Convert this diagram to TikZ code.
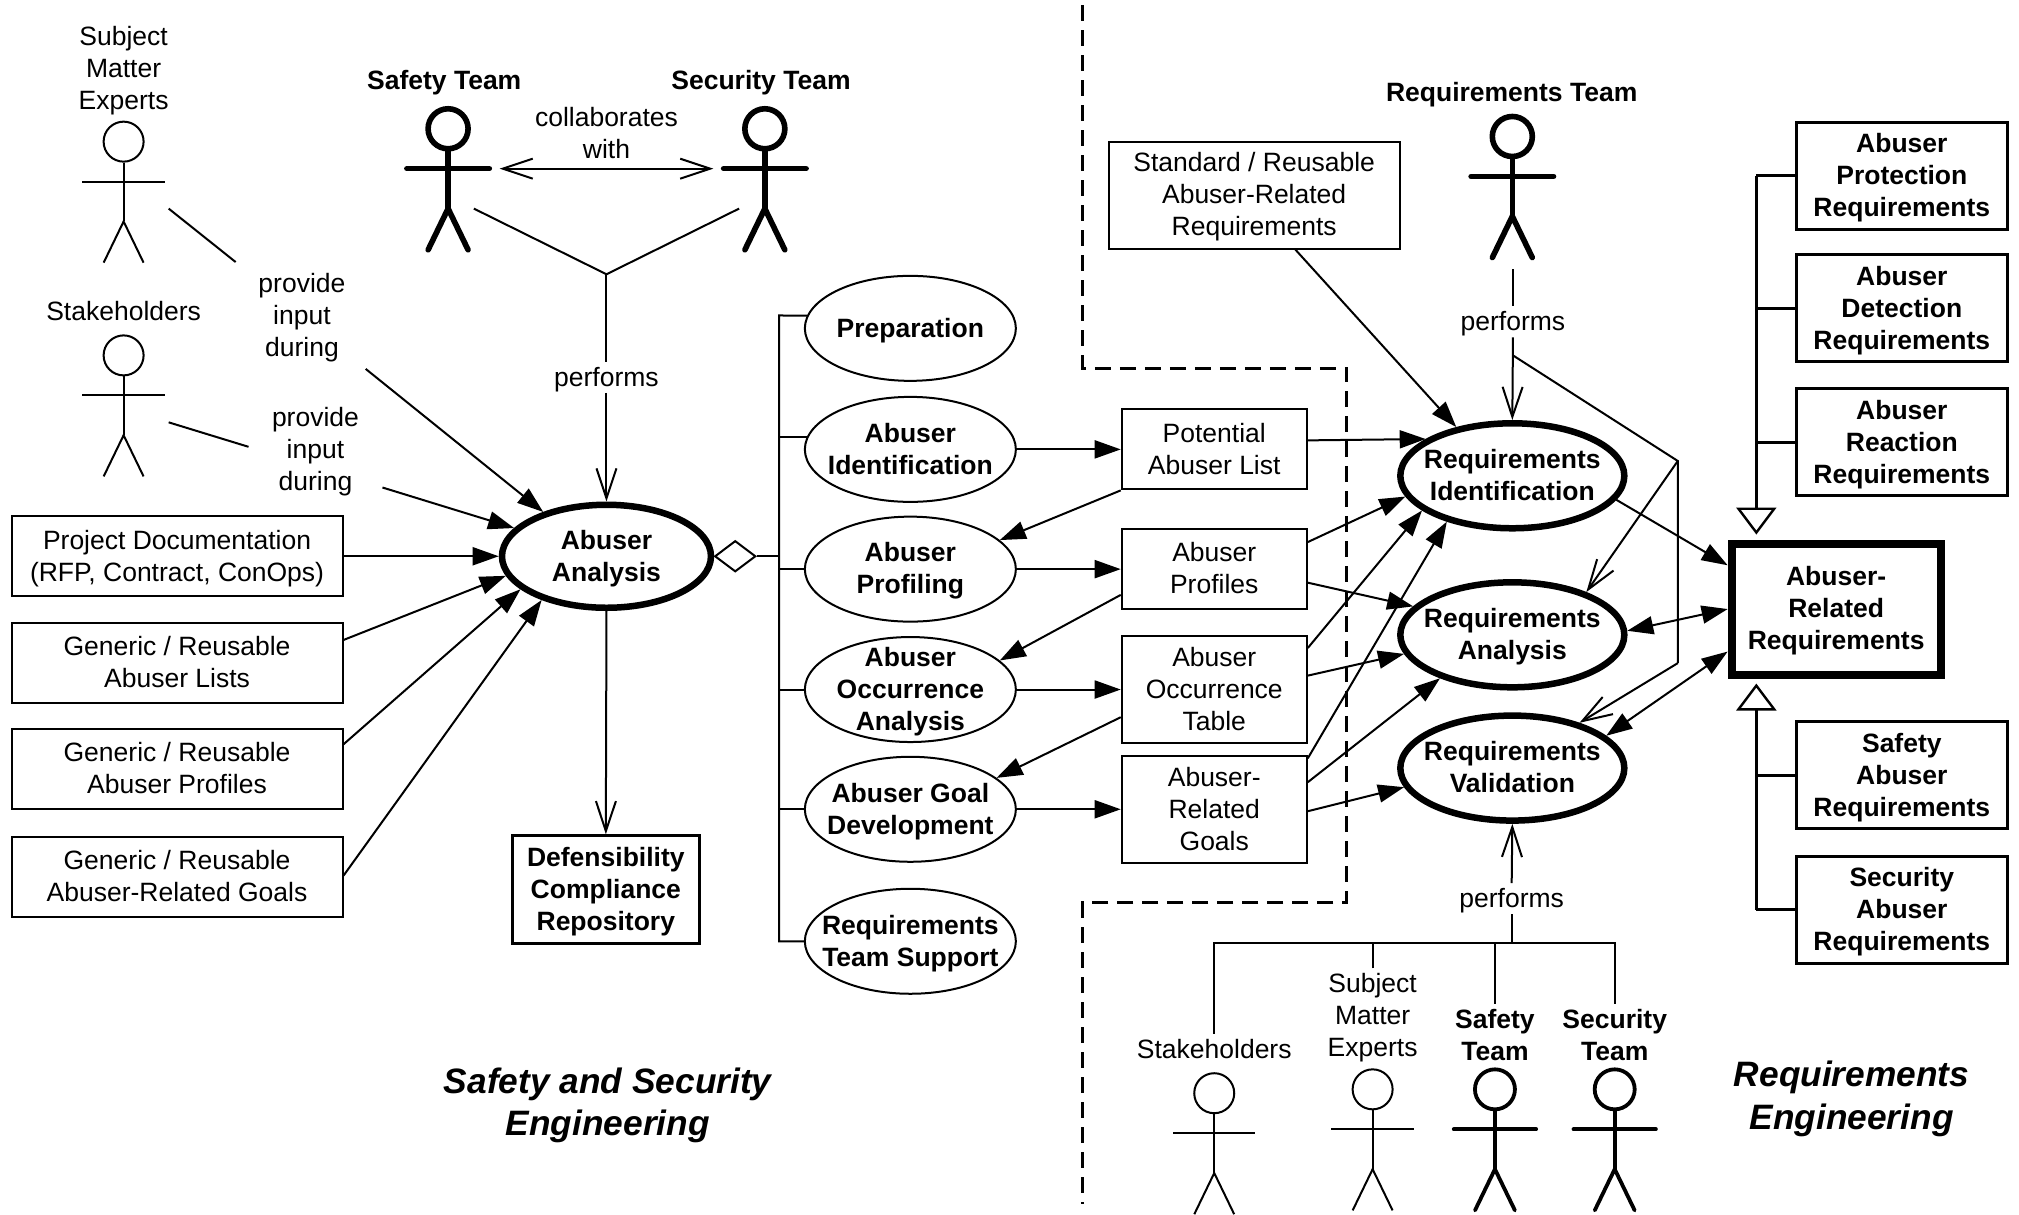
\documentclass[tikz,border=0pt]{standalone}
\usepackage{fontspec}
\setmainfont{Liberation Sans}
\usetikzlibrary{arrows.meta, shapes.geometric}

\newcommand{\actor}[4][]{%
  \node (#2) [actorhead, #1] at (#3, #4) {};
  \draw [actorline, #1] (#2.south) -- (#3, #4 + 62);
  \draw [actorline, #1] (#3 - 32, #4 + 31) -- (#3 + 32, #4 + 31);
  \draw [actorline, #1] (#3 - 15.5, #4 + 94) -- (#3, #4 + 62) -- (#3 + 15.5, #4 + 94);
}

\begin{document}
\begin{tikzpicture}[
		x=1.2876pt, y=-1.2876pt,
		every node/.style={font=\fontsize{26.5}{32}\selectfont, align=center, inner sep=0pt, text depth=1.5pt},
		plain/.style={line width=2pt},
		flow/.style={plain, -{Triangle[length=26pt, width=18pt]}},
		flowboth/.style={plain, {Triangle[length=26pt, width=18pt]}-{Triangle[length=26pt, width=18pt]}},
		barbed/.style={plain, -{Straight Barb[length=30pt, width=20pt]}},
		barbboth/.style={plain, {Straight Barb[length=30pt, width=20pt]}-{Straight Barb[length=30pt, width=20pt]}},
		heir/.style={line width=3pt, shorten >=5pt, -{Triangle[open, length=27pt, width=40pt, line width=2.4pt]}},
		branch/.style={line width=3pt},
		boundary/.style={line width=3pt, dash pattern=on 16pt off 9pt},
		usecase/.style={ellipse, draw, line width=2pt, inner xsep=-40pt, inner ysep=-30pt, minimum width=211pt, minimum height=105pt},
		bigcase/.style={ellipse, draw, line width=6.5pt, inner xsep=-30pt, inner ysep=-20pt, minimum width=209pt, minimum height=103pt},
		reqcase/.style={ellipse, draw, line width=6.5pt, inner xsep=-40pt, inner ysep=-20pt, minimum width=224pt, minimum height=105pt},
		artifact/.style={rectangle, draw, line width=2pt, minimum width=185pt, minimum height=80pt},
		inputdoc/.style={rectangle, draw, line width=2pt, minimum width=331pt, minimum height=80pt},
		reqkind/.style={rectangle, draw, line width=3pt, minimum width=211pt, minimum height=107pt},
		tag/.style={inner sep=5pt},
		title/.style={font=\fontsize{35.3}{42.5}\selectfont\bfseries\itshape},
		actorhead/.style={circle, draw, line width=2pt, minimum size=40pt},
		actorline/.style={line width=2pt},
		heavy/.style={line width=5.6pt, line cap=round},
		heavier/.style={line width=3.8pt, line cap=round}
	]
  \useasboundingbox (0, 0) rectangle (1568, 943);

  \node (sme_name) [tag] at (96, 53) {Subject\\Matter\\Experts};
  \node (stake_name) [tag] at (96, 242) {Stakeholders};
  \node (safety_name) [tag] at (345, 63) {\textbf{Safety Team}};
  \node (security_name) [tag] at (591, 63) {\textbf{Security Team}};
  \node (req_name) [tag] at (1174, 72) {\textbf{Requirements Team}};
  \actor{sme}{96}{110}
  \actor{stake}{96}{276}
  \actor[heavy]{safety}{348}{100}
  \actor[heavy]{security}{594}{100}
  \actor[heavy]{req_team}{1174.5}{106}

  \node (abuser_analysis) [bigcase] at (471, 432) {\textbf{Abuser}\\\textbf{Analysis}};
  \node (agg) [diamond, draw, line width=2pt, minimum width=41pt, minimum height=31pt, aspect=1.3] at (571, 432) {};
  \node (repository) [rectangle, draw, line width=3pt, minimum width=187pt, minimum height=108pt] at (470.5, 691) {\textbf{Defensibility}\\\textbf{Compliance}\\\textbf{Repository}};

  \node (project_doc) [inputdoc] at (137.5, 432) {Project Documentation\\(RFP, Contract, ConOps)};
  \node (generic_lists) [inputdoc] at (137.5, 515) {Generic / Reusable\\Abuser Lists};
  \node (generic_profiles) [inputdoc] at (137.5, 597) {Generic / Reusable\\Abuser Profiles};
  \node (generic_goals) [inputdoc] at (137.5, 681) {Generic / Reusable\\Abuser-Related Goals};

  \node (collab) [tag] at (471, 104) {collaborates\\with};
  \node (input_sme) [tag] at (234.5, 245) {provide\\input\\during};
  \node (input_stake) [tag] at (245, 349) {provide\\input\\during};
  \node (perf_left) [tag] at (471, 293) {performs};

  \node (preparation) [usecase] at (707, 255) {\textbf{Preparation}};
  \node (identification) [usecase] at (707, 349) {\textbf{Abuser}\\\textbf{Identification}};
  \node (profiling) [usecase] at (707, 442) {\textbf{Abuser}\\\textbf{Profiling}};
  \node (occurrence) [usecase] at (707, 535.5) {\textbf{Abuser}\\\textbf{Occurrence}\\\textbf{Analysis}};
  \node (goal_dev) [usecase] at (707, 628.5) {\textbf{Abuser Goal}\\\textbf{Development}};
  \node (team_support) [usecase] at (707, 731) {\textbf{Requirements}\\\textbf{Team Support}};

  \node (potential) [artifact] at (943, 349) {Potential\\Abuser List};
  \node (profiles) [artifact] at (943, 442) {Abuser\\Profiles};
  \node (table) [artifact, minimum height=107pt] at (943, 535.5) {Abuser\\Occurrence\\Table};
  \node (goals) [artifact, minimum height=107pt] at (943, 628.5) {Abuser-\\Related\\Goals};
  \node (standard) [artifact, minimum width=291pt, minimum height=107pt] at (974, 151.5) {Standard / Reusable\\Abuser-Related\\Requirements};

  \node (req_id) [reqcase] at (1174.5, 369.5) {\textbf{Requirements}\\\textbf{Identification}};
  \node (req_an) [reqcase] at (1174.5, 493) {\textbf{Requirements}\\\textbf{Analysis}};
  \node (req_val) [reqcase] at (1174.5, 596.5) {\textbf{Requirements}\\\textbf{Validation}};

  \node (related) [rectangle, draw, line width=8pt, minimum width=209pt, minimum height=131pt] at (1426, 473) {\textbf{Abuser-}\\\textbf{Related}\\\textbf{Requirements}};
  \node (protection) [reqkind] at (1477, 136.5) {\textbf{Abuser}\\\textbf{Protection}\\\textbf{Requirements}};
  \node (detection) [reqkind] at (1477, 239.5) {\textbf{Abuser}\\\textbf{Detection}\\\textbf{Requirements}};
  \node (reaction) [reqkind] at (1477, 343.5) {\textbf{Abuser}\\\textbf{Reaction}\\\textbf{Requirements}};
  \node (safety_req) [reqkind] at (1477, 602) {\textbf{Safety}\\\textbf{Abuser}\\\textbf{Requirements}};
  \node (security_req) [reqkind] at (1477, 706.5) {\textbf{Security}\\\textbf{Abuser}\\\textbf{Requirements}};

  \node (perf_req) [tag] at (1175, 250) {performs};
  \node (perf_val) [tag] at (1174, 698) {performs};
  \node (stake_low) [tag] at (943, 815) {Stakeholders};
  \node (sme_low) [tag] at (1066, 789) {Subject\\Matter\\Experts};
  \node (safety_low) [tag] at (1161, 804) {\textbf{Safety}\\\textbf{Team}};
  \node (security_low) [tag] at (1254, 804) {\textbf{Security}\\\textbf{Team}};
  \actor{stake_b}{943}{849}
  \actor{sme_b}{1066}{846}
  \actor[heavier]{safety_b}{1161}{846}
  \actor[heavier]{security_b}{1254}{846}

  \node (title_left) [title] at (472, 856) {Safety and Security\\Engineering};
  \node (title_right) [title] at (1438, 851) {Requirements\\Engineering};

  \coordinate (dash_a) at (841, 4);
  \coordinate (dash_b) at (841, 286);
  \coordinate (dash_c) at (1046, 286);
  \coordinate (dash_d) at (1046, 701);
  \coordinate (dash_e) at (841, 701);
  \coordinate (dash_f) at (841, 935);
  \draw [boundary] (dash_a) -- (dash_b) -- (dash_c) -- (dash_d) -- (dash_e) -- (dash_f);

  \coordinate (collab_l) at (388, 131);
  \coordinate (collab_r) at (554, 131);
  \draw [barbboth] (collab_l) -- (collab_r);
  \coordinate (team_l) at (368, 162);
  \coordinate (team_r) at (574, 162);
  \coordinate (team_join) at (471, 213);
  \draw [plain] (team_l) -- (team_join) -- (team_r);
  \draw [plain] (team_join) -- (perf_left.north);
  \draw [barbed] (perf_left.south) -- (abuser_analysis.north);

  \coordinate (sme_from) at (131, 162);
  \coordinate (sme_gap_a) at (183, 203.5);
  \coordinate (sme_gap_b) at (284, 286.5);
  \draw [plain] (sme_from) -- (sme_gap_a);
  \draw [flow] (sme_gap_b) -- (abuser_analysis.145.5);
  \coordinate (stake_from) at (131, 328);
  \coordinate (stake_gap_a) at (193, 347);
  \coordinate (stake_gap_b) at (297, 378.6);
  \draw [plain] (stake_from) -- (stake_gap_a);
  \draw [flow] (stake_gap_b) -- (abuser_analysis.163);

  \draw [flow] (project_doc.east) -- (abuser_analysis.west);
  \draw [flow] (generic_lists.east |- 0, 497) -- (abuser_analysis.191);
  \draw [flow] (generic_profiles.east |- 0, 578) -- (abuser_analysis.201);
  \draw [flow] (generic_goals.east |- 0, 680) -- (abuser_analysis.214);
  \draw [barbed] (abuser_analysis.south) -- (repository.north);

  \coordinate (trunk_top) at (605, 245);
  \coordinate (trunk_low) at (605, 731);
  \draw [plain] (preparation.173) -- (trunk_top) -- (trunk_low) -- (team_support.west);
  \draw [plain] (agg.east) -- (trunk_top |- agg.east);
  \draw [plain] (trunk_top |- identification.173) -- (identification.173);
  \draw [plain] (trunk_top |- profiling.west) -- (profiling.west);
  \draw [plain] (trunk_top |- occurrence.west) -- (occurrence.west);
  \draw [plain] (trunk_top |- goal_dev.west) -- (goal_dev.west);

  \draw [flow] (identification.east) -- (potential.west);
  \draw [flow] (profiling.east) -- (profiles.west);
  \draw [flow] (occurrence.east) -- (table.west);
  \draw [flow] (goal_dev.east) -- (goals.west);
  \draw [flow] (potential.south west) -- (profiling.18);
  \draw [flow] (profiles.west |- 0, 462) -- (occurrence.18);
  \draw [flow] (table.west |- 0, 557) -- (goal_dev.20);

  \draw [flow] (1006, 0 |- standard.south) -- (req_id.139);
  \draw [flow] (potential.east |- 0, 342) -- (req_id.157.5);
  \draw [flow] (profiles.east |- 0, 421) -- (req_id.191);
  \draw [flow] (profiles.east |- 0, 452.5) -- (req_an.164);
  \draw [flow] (table.east |- 0, 503.3) -- (req_id.201);
  \draw [flow] (table.east |- 0, 524.7) -- (req_an.190.5);
  \draw [flow] (goals.east |- 0, 589) -- (req_id.215);
  \draw [flow] (goals.east |- 0, 607.5) -- (req_an.211);
  \draw [flow] (goals.east |- 0, 630) -- (req_val.190.5);

  \coordinate (req_team_foot) at (1175, 209);
  \coordinate (perf_split) at (1175, 276);
  \coordinate (bend_up) at (1303, 358);
  \coordinate (bend_down) at (1303, 515);
  \draw [plain] (req_team_foot) -- (perf_req.north);
  \draw [barbed] (perf_req.south) -- (req_id.north);
  \draw [plain] (perf_split) -- (bend_up) -- (bend_down);
  \draw [barbed] (bend_up) -- (req_an.30.6);
  \draw [barbed] (bend_down) -- (req_val.34.4);

  \draw [flow] (req_id.347.6) -- (related.west |- 0, 439);
  \draw [flowboth] (req_an.2) -- (related.west);
  \draw [flowboth] (req_val.19.8) -- (related.west |- 0, 506);

  \coordinate (heir_top) at (1364, 136.5);
  \coordinate (heir_low) at (1364, 706.5);
  \draw [branch] (protection.west) -- (heir_top);
  \draw [heir] (heir_top) -- (heir_top |- related.north);
  \draw [branch] (heir_top |- detection.west) -- (detection.west);
  \draw [branch] (heir_top |- reaction.west) -- (reaction.west);
  \draw [branch] (security_req.west) -- (heir_low);
  \draw [heir] (heir_low) -- (heir_low |- related.south);
  \draw [branch] (heir_low |- safety_req.west) -- (safety_req.west);

  \coordinate (tree_l) at (943, 732);
  \coordinate (tree_r) at (1254, 732);
  \draw [barbed] (perf_val.north) -- (req_val.south);
  \draw [plain] (perf_val.south) -- (perf_val.south |- tree_l);
  \draw [plain] (stake_low.north) -- (tree_l) -- (tree_r) -- (security_low.north);
  \draw [plain] (sme_low.north) -- (sme_low.north |- tree_l);
  \draw [plain] (safety_low.north) -- (safety_low.north |- tree_l);
\end{tikzpicture}
\end{document}
